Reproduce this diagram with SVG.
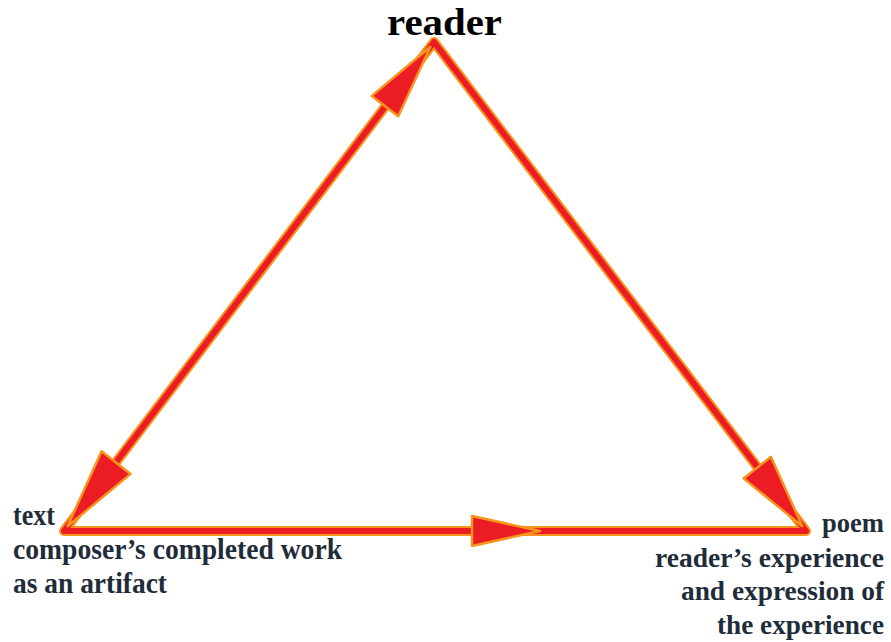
<svg xmlns="http://www.w3.org/2000/svg" width="891" height="642" viewBox="0 0 891 642">
<style>
.edge{fill:none;stroke-linejoin:round;stroke-linecap:round}
.outer{stroke:#f7941d;stroke-width:10}
.inner{stroke:#ec1c24;stroke-width:6}
.head{fill:#ec1c24;stroke:#f7941d;stroke-width:2.5;stroke-linejoin:round}
.lbl{font-family:"Liberation Serif","Times New Roman",serif;font-weight:bold;font-size:30px;fill:#1f2c39}
.rl{font-size:28px}
.title{font-family:"Liberation Serif","Times New Roman",serif;font-weight:bold;font-size:37px;fill:#000}
</style>
<rect width="891" height="642" fill="#fff"/>
<g id="connectors">
<path class="edge outer" d="M64 531 L434 42 L806 531 Z"/>
<path class="edge inner" d="M64 531 L434 42 L806 531 Z"/>
<polygon class="head" points="430.4,46.8 398.2,116.3 371.8,95.9"/>
<polygon class="head" points="67.6,526.2 130.6,473.9 101.6,451.3"/>
<polygon class="head" points="802.3,526.2 770.9,456.8 743.5,478.4"/>
<polygon class="head" points="540,531 472,516 472,546"/>
</g>
<g id="reader"><text class="title" x="387" y="35" textLength="115" lengthAdjust="spacingAndGlyphs">reader</text></g>
<g id="text">
<text class="lbl" x="13" y="525" textLength="42" lengthAdjust="spacingAndGlyphs">text</text>
<text class="lbl" x="13" y="559" textLength="329" lengthAdjust="spacingAndGlyphs">composer’s completed work</text>
<text class="lbl" x="13" y="593" textLength="154" lengthAdjust="spacingAndGlyphs">as an artifact</text>
</g>
<g id="poem">
<text class="lbl rl" x="822" y="532" textLength="62" lengthAdjust="spacingAndGlyphs">poem</text>
<text class="lbl rl" x="655" y="567" textLength="229" lengthAdjust="spacingAndGlyphs">reader’s experience</text>
<text class="lbl rl" x="681" y="600" textLength="203" lengthAdjust="spacingAndGlyphs">and expression of</text>
<text class="lbl rl" x="717" y="634" textLength="167" lengthAdjust="spacingAndGlyphs">the experience</text>
</g>
</svg>
